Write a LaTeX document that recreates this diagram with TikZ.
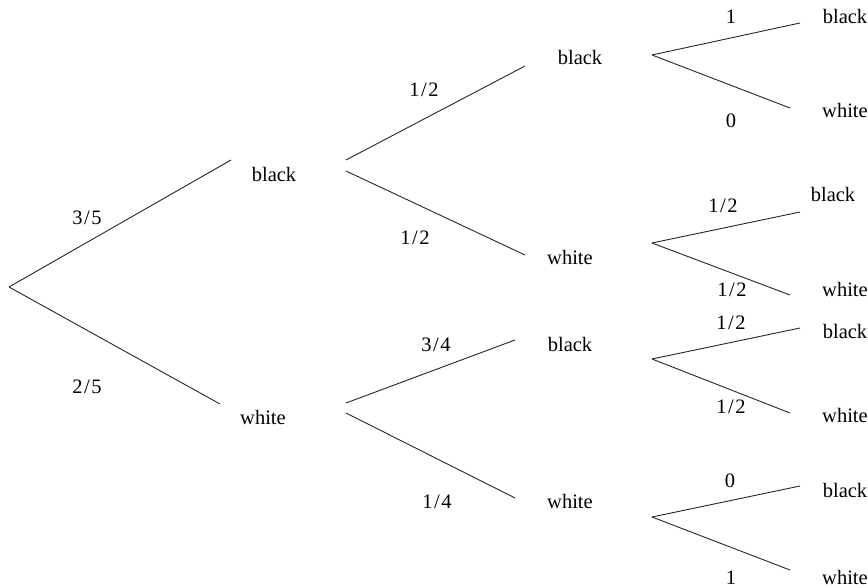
\documentclass[tikz,border=0pt]{standalone}
\usepackage{fontspec}
\setmainfont{Liberation Serif}
\newcommand{\frc}[2]{#1\kern1.5pt/\kern1.5pt#2}
\begin{document}
\begin{tikzpicture}[x=1pt,y=-1pt,
  lbl/.style={anchor=base,inner sep=0pt,font=\fontsize{20.5}{24}\selectfont},
  branch/.style={line width=0.9pt,black!85}]
\useasboundingbox (0,0) rectangle (868,588);

% ---------- level 1 ----------
\coordinate (r) at (9,287);
\coordinate (b1e) at (231,160);
\coordinate (w1e) at (220,404);
\draw[branch] (r) -- (b1e);
\draw[branch] (r) -- (w1e);
\node[lbl] (b1) at (274,182) {black};
\node[lbl] (w1) at (263,424) {white};
\node[lbl] (p35) at (87,225) {\frc35};
\node[lbl] (p25) at (87,393) {\frc25};

% ---------- level 2, after black ----------
\coordinate (b1u) at (346,160);
\coordinate (b1d) at (346,171);
\coordinate (bbe) at (525,66);
\coordinate (bwe) at (525,255);
\draw[branch] (b1u) -- (bbe);
\draw[branch] (b1d) -- (bwe);
\node[lbl] (bb) at (580,65) {black};
\node[lbl] (bw) at (570,265) {white};
\node[lbl] (pbb) at (424,97) {\frc12};
\node[lbl] (pbw) at (415,245) {\frc12};

% ---------- level 2, after white ----------
\coordinate (w1u) at (346,403);
\coordinate (w1d) at (346,413);
\coordinate (wbe) at (515,340);
\coordinate (wwe) at (515,498);
\draw[branch] (w1u) -- (wbe);
\draw[branch] (w1d) -- (wwe);
\node[lbl] (wb) at (570,351) {black};
\node[lbl] (ww) at (570,508) {white};
\node[lbl] (pwb) at (436,352) {\frc34};
\node[lbl] (pww) at (437,508) {\frc14};

% ---------- level 3 ----------
% after black, black
\coordinate (a1) at (652,55);
\coordinate (a1u) at (800,23);
\coordinate (a1d) at (790,108);
\draw[branch] (a1) -- (a1u);
\draw[branch] (a1) -- (a1d);
\node[lbl] (bbb) at (845,24) {black};
\node[lbl] (bbw) at (845,118) {white};
\node[lbl] (pbbb) at (731,24) {1};
\node[lbl] (pbbw) at (731,128) {0};

% after black, white
\coordinate (a2) at (652,243);
\coordinate (a2u) at (800,212);
\coordinate (a2d) at (790,295);
\draw[branch] (a2) -- (a2u);
\draw[branch] (a2) -- (a2d);
\node[lbl] (bwb) at (833,202) {black};
\node[lbl] (bww) at (845,297) {white};
\node[lbl] (pbwb) at (723,213) {\frc12};
\node[lbl] (pbww) at (732,297) {\frc12};

% after white, black
\coordinate (a3) at (652,359);
\coordinate (a3u) at (800,328);
\coordinate (a3d) at (790,413);
\draw[branch] (a3) -- (a3u);
\draw[branch] (a3) -- (a3d);
\node[lbl] (wbb) at (845,338) {black};
\node[lbl] (wbw) at (845,422) {white};
\node[lbl] (pwbb) at (731,330) {\frc12};
\node[lbl] (pwbw) at (731,413) {\frc12};

% after white, white
\coordinate (a4) at (652,517);
\coordinate (a4u) at (800,486);
\coordinate (a4d) at (790,570);
\draw[branch] (a4) -- (a4u);
\draw[branch] (a4) -- (a4d);
\node[lbl] (wwb) at (845,497) {black};
\node[lbl] (www) at (845,584) {white};
\node[lbl] (pwwb) at (730,487) {0};
\node[lbl] (pwww) at (731,584) {1};
\end{tikzpicture}
\end{document}
